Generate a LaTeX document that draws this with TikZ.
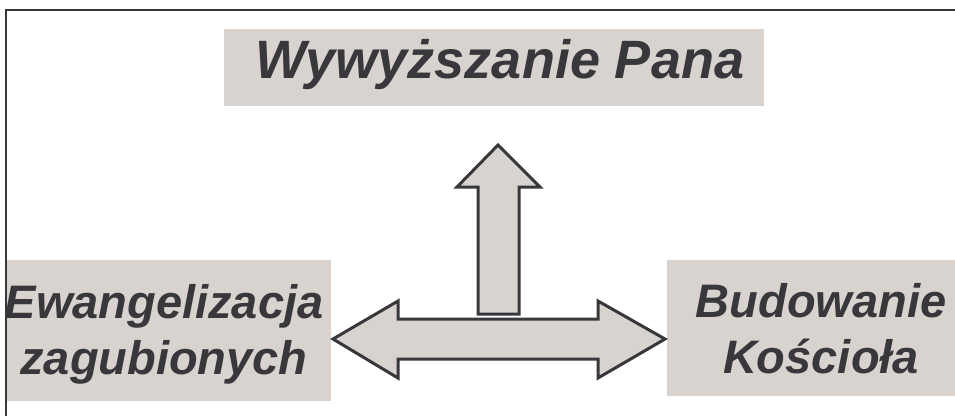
\documentclass[tikz,border=0pt]{standalone}
\usepackage{fontspec}
\setmainfont{Liberation Sans}
\usepackage{tikz}
\definecolor{panelfill}{HTML}{D9D3D0}
\definecolor{inkgray}{HTML}{38373B}
\tikzset{
  panel/.style={fill=panelfill, inner sep=0pt},
  caption/.style={text=inkgray, align=center, inner sep=0pt,
    font=\bfseries\itshape},
  blockarrow/.style={fill=panelfill, draw=inkgray, line width=3pt,
    line join=miter}
}

\begin{document}
\begin{tikzpicture}[x=1pt,y=-1pt]
\useasboundingbox (0,0) rectangle (955,416);
% frame
\draw[inkgray, line width=2.5pt] (6,416) -- (6,10) -- (955,10);
% boxes
\node[panel, minimum width=540, minimum height=77] (topbox) at (494,67.5) {};
\node[panel, minimum width=324, minimum height=141] (leftbox) at (169,330.5) {};
\node[panel, minimum width=288, minimum height=136] (rightbox) at (811,328) {};
\node[caption, font=\fontsize{54}{54}\selectfont\bfseries\itshape]
  (toptext) at (500,65) {Wywyższanie Pana};
\node[caption, font=\fontsize{47}{56}\selectfont\bfseries\itshape]
  (lefttext) at (164,334) {Ewangelizacja\\zagubionych};
\node[caption, font=\fontsize{47}{56}\selectfont\bfseries\itshape]
  (righttext) at (821,329) {Budowanie\\Kościoła};
% arrows
\draw[blockarrow] (333,339) -- (398,301) -- (398,319) -- (598,319)
  -- (598,301) -- (665,339) -- (598,378) -- (598,359) -- (398,359)
  -- (398,378) -- cycle;
\draw[blockarrow] (478,314) -- (478,187) -- (457,187) -- (498,145)
  -- (540,187) -- (519,187) -- (519,314) -- cycle;
\end{tikzpicture}
\end{document}
